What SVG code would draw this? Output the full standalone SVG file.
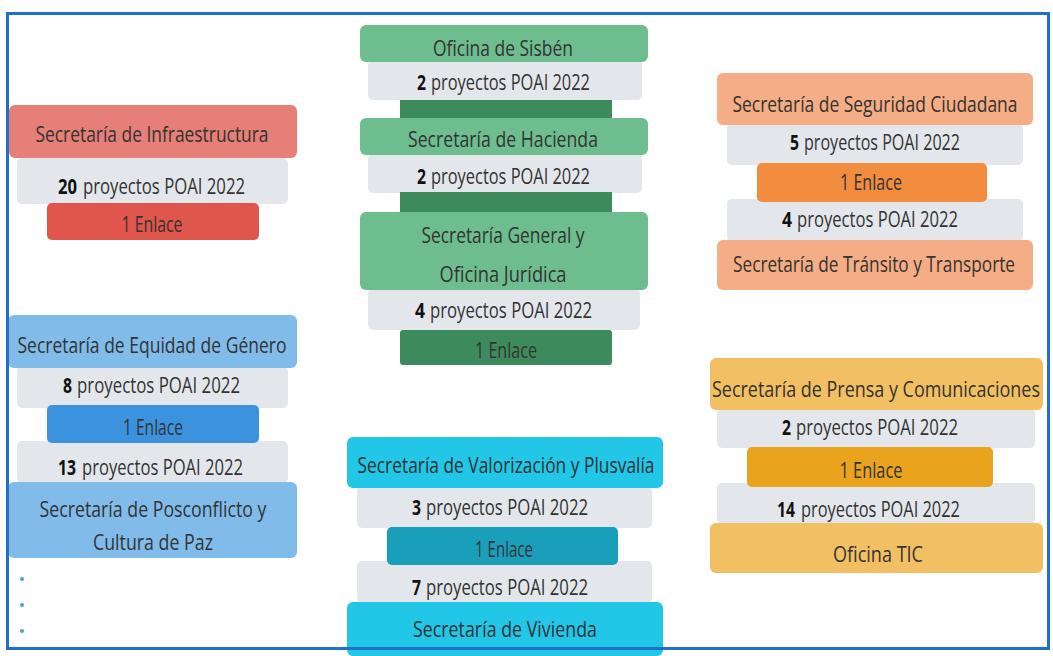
<svg xmlns="http://www.w3.org/2000/svg" width="1053" height="656" viewBox="0 0 1053 656">
<style>
text{font-family:"Open Sans","Liberation Sans",sans-serif;font-size:21px;fill:#333333;text-anchor:middle;}
text.s{text-anchor:start;}
.b{font-weight:bold;fill:#111;text-anchor:start;}
.g{fill:#e3e7eb;}
.red{fill:#e57f77;} .redE{fill:#e0564c;}
.blu{fill:#80bbe9;} .bluE{fill:#3d92dd;}
.grn{fill:#6dbd8f;} .grnE{fill:#3d8b5d;}
.cyn{fill:#22c6e6;} .cynE{fill:#1a9fba;}
.org{fill:#f4ad84;} .orgE{fill:#f28c3f;}
.ylw{fill:#f2c063;} .ylwE{fill:#e9a31c;}
</style>
<rect x="0" y="0" width="1053" height="656" fill="#ffffff"/>

<g id="infraestructura">
<rect class="g" x="17" y="158" width="271" height="46" rx="5"/>
<rect class="red" x="9" y="105" width="288" height="53" rx="6"/>
<rect class="redE" x="47" y="203" width="212" height="37" rx="5"/>
<text x="152" y="142" textLength="233" lengthAdjust="spacingAndGlyphs">Secretaría de Infraestructura</text>
<text class="b" x="58" y="194" textLength="19" lengthAdjust="spacingAndGlyphs">20</text>
<text class="s" x="83" y="194" textLength="162" lengthAdjust="spacingAndGlyphs">proyectos POAI 2022</text>
<text x="152" y="232" textLength="61" lengthAdjust="spacingAndGlyphs">1 Enlace</text>
</g>

<g id="equidad-posconflicto">
<rect class="g" x="17" y="366" width="271" height="42" rx="5"/>
<rect class="g" x="17" y="441" width="271" height="42" rx="5"/>
<rect class="blu" x="8" y="315" width="289" height="53" rx="6"/>
<rect class="bluE" x="47" y="405" width="212" height="38" rx="5"/>
<rect class="blu" x="8" y="482" width="289" height="76" rx="6"/>
<text x="152" y="353" textLength="269" lengthAdjust="spacingAndGlyphs">Secretaría de Equidad de Género</text>
<text class="b" x="63" y="393" textLength="9" lengthAdjust="spacingAndGlyphs">8</text>
<text class="s" x="77" y="393" textLength="163" lengthAdjust="spacingAndGlyphs">proyectos POAI 2022</text>
<text x="153" y="435" textLength="60" lengthAdjust="spacingAndGlyphs">1 Enlace</text>
<text class="b" x="58" y="475" textLength="18" lengthAdjust="spacingAndGlyphs">13</text>
<text class="s" x="82" y="475" textLength="161" lengthAdjust="spacingAndGlyphs">proyectos POAI 2022</text>
<text x="153" y="517" textLength="227" lengthAdjust="spacingAndGlyphs">Secretaría de Posconflicto y</text>
<text x="153" y="550" textLength="120" lengthAdjust="spacingAndGlyphs">Cultura de Paz</text>
</g>

<g id="dots">
<circle cx="22" cy="579" r="2" fill="#4aa6b8"/>
<circle cx="22" cy="605" r="2" fill="#4aa6b8"/>
<circle cx="22" cy="631" r="2" fill="#4aa6b8"/>
</g>

<g id="sisben-hacienda-general">
<rect class="g" x="368" y="60" width="274" height="40" rx="5"/>
<rect class="grnE" x="400" y="100" width="212" height="20"/>
<rect class="g" x="368" y="153" width="274" height="40" rx="5"/>
<rect class="grnE" x="400" y="192" width="212" height="22"/>
<rect class="g" x="368" y="288" width="272" height="42" rx="5"/>
<rect class="grn" x="360" y="25" width="288" height="37" rx="6"/>
<rect class="grn" x="360" y="118" width="288" height="37" rx="6"/>
<rect class="grn" x="360" y="212" width="288" height="78" rx="6"/>
<rect class="grnE" x="400" y="330" width="212" height="35" rx="3"/>
<text x="503" y="56" textLength="140" lengthAdjust="spacingAndGlyphs">Oficina de Sisbén</text>
<text class="b" x="417" y="90" textLength="9" lengthAdjust="spacingAndGlyphs">2</text>
<text class="s" x="431" y="90" textLength="159" lengthAdjust="spacingAndGlyphs">proyectos POAI 2022</text>
<text x="503" y="147" textLength="190" lengthAdjust="spacingAndGlyphs">Secretaría de Hacienda</text>
<text class="b" x="417" y="184" textLength="9" lengthAdjust="spacingAndGlyphs">2</text>
<text class="s" x="431" y="184" textLength="159" lengthAdjust="spacingAndGlyphs">proyectos POAI 2022</text>
<text x="503" y="243" textLength="163" lengthAdjust="spacingAndGlyphs">Secretaría General y</text>
<text x="503" y="282" textLength="127" lengthAdjust="spacingAndGlyphs">Oficina Jurídica</text>
<text class="b" x="415" y="318" textLength="10" lengthAdjust="spacingAndGlyphs">4</text>
<text class="s" x="430" y="318" textLength="162" lengthAdjust="spacingAndGlyphs">proyectos POAI 2022</text>
<text x="506" y="358" textLength="62" lengthAdjust="spacingAndGlyphs">1 Enlace</text>
</g>

<g id="valorizacion-vivienda">
<rect class="g" x="357" y="486" width="295" height="42" rx="5"/>
<rect class="g" x="357" y="561" width="295" height="42" rx="5"/>
<rect class="cyn" x="347" y="437" width="316" height="51" rx="6"/>
<rect class="cynE" x="387" y="527" width="231" height="38" rx="5"/>
<rect class="cyn" x="347" y="602" width="316" height="54" rx="6"/>
<text x="506" y="473" textLength="297" lengthAdjust="spacingAndGlyphs">Secretaría de Valorización y Plusvalía</text>
<text class="b" x="412" y="515" textLength="9" lengthAdjust="spacingAndGlyphs">3</text>
<text class="s" x="426" y="515" textLength="162" lengthAdjust="spacingAndGlyphs">proyectos POAI 2022</text>
<text x="504" y="557" textLength="58" lengthAdjust="spacingAndGlyphs">1 Enlace</text>
<text class="b" x="412" y="595" textLength="9" lengthAdjust="spacingAndGlyphs">7</text>
<text class="s" x="426" y="595" textLength="162" lengthAdjust="spacingAndGlyphs">proyectos POAI 2022</text>
<text x="505" y="637" textLength="184" lengthAdjust="spacingAndGlyphs">Secretaría de Vivienda</text>
</g>

<g id="seguridad-transito">
<rect class="g" x="727" y="123" width="296" height="42" rx="5"/>
<rect class="g" x="727" y="199" width="296" height="42" rx="5"/>
<rect class="org" x="717" y="73" width="316" height="52" rx="6"/>
<rect class="orgE" x="757" y="163" width="230" height="39" rx="5"/>
<rect class="org" x="717" y="240" width="316" height="50" rx="6"/>
<text x="875" y="112" textLength="285" lengthAdjust="spacingAndGlyphs">Secretaría de Seguridad Ciudadana</text>
<text class="b" x="790" y="150" textLength="9" lengthAdjust="spacingAndGlyphs">5</text>
<text class="s" x="804" y="150" textLength="156" lengthAdjust="spacingAndGlyphs">proyectos POAI 2022</text>
<text x="871" y="190" textLength="62" lengthAdjust="spacingAndGlyphs">1 Enlace</text>
<text class="b" x="782" y="227" textLength="10" lengthAdjust="spacingAndGlyphs">4</text>
<text class="s" x="797" y="227" textLength="161" lengthAdjust="spacingAndGlyphs">proyectos POAI 2022</text>
<text x="874" y="272" textLength="282" lengthAdjust="spacingAndGlyphs">Secretaría de Tránsito y Transporte</text>
</g>

<g id="prensa-tic">
<rect class="g" x="717" y="408" width="318" height="40" rx="5"/>
<rect class="g" x="717" y="483" width="318" height="41" rx="5"/>
<rect class="ylw" x="710" y="358" width="333" height="52" rx="6"/>
<rect class="ylwE" x="747" y="447" width="246" height="40" rx="5"/>
<rect class="ylw" x="710" y="523" width="333" height="50" rx="6"/>
<text x="876" y="397" textLength="328" lengthAdjust="spacingAndGlyphs">Secretaría de Prensa y Comunicaciones</text>
<text class="b" x="782" y="435" textLength="9" lengthAdjust="spacingAndGlyphs">2</text>
<text class="s" x="796" y="435" textLength="162" lengthAdjust="spacingAndGlyphs">proyectos POAI 2022</text>
<text x="871" y="478" textLength="63" lengthAdjust="spacingAndGlyphs">1 Enlace</text>
<text class="b" x="777" y="517" textLength="18" lengthAdjust="spacingAndGlyphs">14</text>
<text class="s" x="801" y="517" textLength="159" lengthAdjust="spacingAndGlyphs">proyectos POAI 2022</text>
<text x="878" y="562" textLength="90" lengthAdjust="spacingAndGlyphs">Oficina TIC</text>
</g>

<rect id="frame" x="7.5" y="13.5" width="1041" height="635" fill="none" stroke="#1f70c8" stroke-width="3"/>
</svg>
